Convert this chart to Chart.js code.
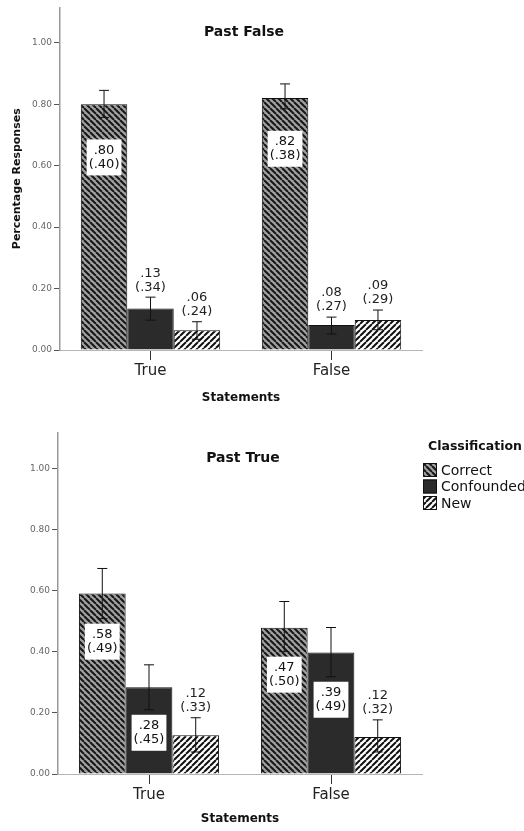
<!DOCTYPE html>
<html>
<head>
<meta charset="utf-8">
<script src="https://cdn.jsdelivr.net/npm/chart.js@4.4.1/dist/chart.umd.min.js"></script>
<style>
  html, body { margin: 0; padding: 0; background: #fff; overflow: hidden; }
  canvas { display: block; }
</style>
</head>
<body>
<canvas id="pastFalse" width="524" height="412"></canvas>
<canvas id="pastTrue" width="524" height="419"></canvas>
<script>
// categories
const statements = ['True', 'False'];
const classifications = ['Correct', 'Confounded', 'New'];
const yTicks = [0, 0.2, 0.4, 0.6, 0.8, 1.0];

// Past False panel (means, 95% CI, printed "mean (sd)")
const pastFalseCorrect = [0.80, 0.82];
const pastFalseConfounded = [0.135, 0.081];
const pastFalseNew = [0.064, 0.098];
const pastFalseCorrectCI = [[0.757, 0.845], [0.785, 0.866]];
const pastFalseConfoundedCI = [[0.097, 0.172], [0.052, 0.107]];
const pastFalseNewCI = [[0.035, 0.092], [0.066, 0.13]];
const pastFalseCorrectText = ['.80 (.40)', '.82 (.38)'];
const pastFalseConfoundedText = ['.13 (.34)', '.08 (.27)'];
const pastFalseNewText = ['.06 (.24)', '.09 (.29)'];

// Past True panel
const pastTrueCorrect = [0.59, 0.478];
const pastTrueConfounded = [0.284, 0.397];
const pastTrueNew = [0.127, 0.121];
const pastTrueCorrectCI = [[0.508, 0.672], [0.40, 0.564]];
const pastTrueConfoundedCI = [[0.21, 0.357], [0.318, 0.479]];
const pastTrueNewCI = [[0.072, 0.184], [0.072, 0.177]];
const pastTrueCorrectText = ['.58 (.49)', '.47 (.50)'];
const pastTrueConfoundedText = ['.28 (.45)', '.39 (.49)'];
const pastTrueNewText = ['.12 (.33)', '.12 (.32)'];

Chart.defaults.font.family = "'DejaVu Sans', sans-serif";
Chart.defaults.color = '#222';

// diagonal hatch fills
function stripes(bg, fg, size, width, back) {
  const c = document.createElement('canvas');
  c.width = c.height = size;
  const g = c.getContext('2d');
  g.fillStyle = bg;
  g.fillRect(0, 0, size, size);
  g.strokeStyle = fg;
  g.lineWidth = width;
  g.beginPath();
  for (const k of [-size, 0, size]) {
    if (back) { g.moveTo(k, 0); g.lineTo(k + size, size); }
    else { g.moveTo(k, size); g.lineTo(k + size, 0); }
  }
  g.stroke();
  return g.createPattern(c, 'repeat');
}
const fills = [
  stripes('#a0a0a0', '#161616', 6, 2, true),
  '#2b2b2b',
  stripes('#ffffff', '#111', 6, 2, false)
];

// error bars drawn from the CI arrays through the y scale
const errorBars = {
  id: 'errorBars',
  afterDatasetsDraw(chart) {
    const ctx = chart.ctx, y = chart.scales.y;
    ctx.save();
    ctx.strokeStyle = '#111';
    ctx.lineWidth = 1;
    chart.data.datasets.forEach((ds, i) => {
      chart.getDatasetMeta(i).data.forEach((bar, j) => {
        const lo = y.getPixelForValue(ds.ci[j][0]);
        const hi = y.getPixelForValue(ds.ci[j][1]);
        ctx.beginPath();
        ctx.moveTo(bar.x, lo); ctx.lineTo(bar.x, hi);
        ctx.moveTo(bar.x - 5, lo); ctx.lineTo(bar.x + 5, lo);
        ctx.moveTo(bar.x - 5, hi); ctx.lineTo(bar.x + 5, hi);
        ctx.stroke();
      });
    });
    ctx.restore();
  }
};

// "mean (sd)" labels: white box inside tall bars, plain text above short ones
const valueLabels = {
  id: 'valueLabels',
  afterDatasetsDraw(chart, args, opts) {
    const ctx = chart.ctx, y = chart.scales.y;
    const base = y.getPixelForValue(0);
    const lh = 14, boxH = 2 * lh + 8;
    ctx.save();
    ctx.font = '13px "DejaVu Sans"';
    ctx.textAlign = 'center';
    ctx.textBaseline = 'middle';
    chart.data.datasets.forEach((ds, i) => {
      chart.getDatasetMeta(i).data.forEach((bar, j) => {
        const lines = ds.text[j].split(' ');
        const lo = y.getPixelForValue(ds.ci[j][0]);
        const hi = y.getPixelForValue(ds.ci[j][1]);
        const w = Math.max(...lines.map(t => ctx.measureText(t).width)) + 4;
        if (base - lo > boxH + opts.gap + 4) {
          const top = lo + opts.gap;
          ctx.fillStyle = '#fff';
          ctx.fillRect(bar.x - w / 2, top, w, boxH);
          ctx.fillStyle = '#111';
          ctx.fillText(lines[0], bar.x, top + 4 + lh / 2);
          ctx.fillText(lines[1], bar.x, top + 4 + lh * 1.5);
        } else {
          ctx.fillStyle = '#222';
          ctx.fillText(lines[0], bar.x, hi - 10 - lh);
          ctx.fillText(lines[1], bar.x, hi - 10);
        }
      });
    });
    ctx.restore();
  }
};

const panelTitle = {
  id: 'panelTitle',
  afterDraw(chart, args, opts) {
    const {ctx, chartArea} = chart;
    ctx.save();
    ctx.font = 'bold 14px "DejaVu Sans"';
    ctx.fillStyle = '#111';
    ctx.textAlign = 'center';
    ctx.textBaseline = 'middle';
    ctx.fillText(opts.text, (chartArea.left + chartArea.right) / 2 + 3, chartArea.top + 25);
    ctx.restore();
  }
};

const hatchLegend = {
  id: 'hatchLegend',
  afterDraw(chart, args, opts) {
    if (!opts.show) return;
    const ctx = chart.ctx;
    ctx.save();
    ctx.fillStyle = '#111';
    ctx.textBaseline = 'middle';
    ctx.font = 'bold 12.5px "DejaVu Sans"';
    ctx.fillText('Classification', opts.x + 5, opts.y);
    ctx.font = '14px "DejaVu Sans"';
    chart.data.datasets.forEach((ds, i) => {
      const cy = opts.y + 23 + i * 16.5;
      ctx.fillStyle = ds.backgroundColor;
      ctx.fillRect(opts.x, cy - 7, 14, 14);
      ctx.strokeStyle = '#111';
      ctx.lineWidth = 1;
      ctx.strokeRect(opts.x + 0.5, cy - 6.5, 13, 13);
      ctx.fillStyle = '#111';
      ctx.fillText(ds.label, opts.x + 18, cy + 1);
    });
    ctx.restore();
  }
};

function makePanel(id, series, cis, texts, p) {
  const datasets = classifications.map((name, k) => ({
    label: name,
    data: series[k],
    ci: cis[k],
    text: texts[k],
    backgroundColor: fills[k],
    borderColor: '#111',
    borderWidth: 1,
    barPercentage: 1,
    categoryPercentage: 0.77
  }));
  return new Chart(document.getElementById(id), {
    type: 'bar',
    data: { labels: statements, datasets: datasets },
    plugins: [errorBars, valueLabels, panelTitle, hatchLegend],
    options: {
      responsive: false,
      animation: false,
      layout: { padding: { top: p.top, right: 102, left: 0, bottom: 0 } },
      plugins: {
        legend: { display: false },
        tooltip: { enabled: false },
        valueLabels: { gap: p.gap },
        panelTitle: { text: p.title },
        hatchLegend: { show: p.legend, x: 423, y: 35 }
      },
      scales: {
        x: {
          afterFit: s => { s.height = p.xHeight; },
          grid: { offset: false, drawOnChartArea: false, tickLength: 10, color: '#333' },
          border: { color: '#b5b5b5', width: 1 },
          ticks: { font: { size: 15 }, color: '#222', padding: 2 },
          title: { display: true, text: 'Statements', font: { size: 12, weight: 'bold' }, color: '#111',
                   padding: { top: 0, bottom: p.titlePad } }
        },
        y: {
          min: 0,
          max: 1.115,
          afterFit: s => { s.width = p.yWidth; },
          afterBuildTicks: s => { s.ticks = yTicks.map(v => ({ value: v })); },
          grid: { drawOnChartArea: false, tickLength: 6, color: '#555' },
          border: { color: '#999', width: 1.5 },
          ticks: { font: { size: 9 }, color: '#666', padding: 2, callback: v => v.toFixed(2) },
          title: { display: p.yTitle, text: 'Percentage Responses', font: { size: 11, weight: 'bold' },
                   color: '#111', padding: { top: 11, bottom: 0 } }
        }
      }
    }
  });
}

makePanel('pastFalse',
  [pastFalseCorrect, pastFalseConfounded, pastFalseNew],
  [pastFalseCorrectCI, pastFalseConfoundedCI, pastFalseNewCI],
  [pastFalseCorrectText, pastFalseConfoundedText, pastFalseNewText],
  { title: 'Past False', top: 7, gap: 22, xHeight: 62, titlePad: 7, yWidth: 60, yTitle: true, legend: false });

makePanel('pastTrue',
  [pastTrueCorrect, pastTrueConfounded, pastTrueNew],
  [pastTrueCorrectCI, pastTrueConfoundedCI, pastTrueNewCI],
  [pastTrueCorrectText, pastTrueConfoundedText, pastTrueNewText],
  { title: 'Past True', top: 21, gap: 5, xHeight: 57, titlePad: 5, yWidth: 58, yTitle: false, legend: true });
</script>
</body>
</html>
